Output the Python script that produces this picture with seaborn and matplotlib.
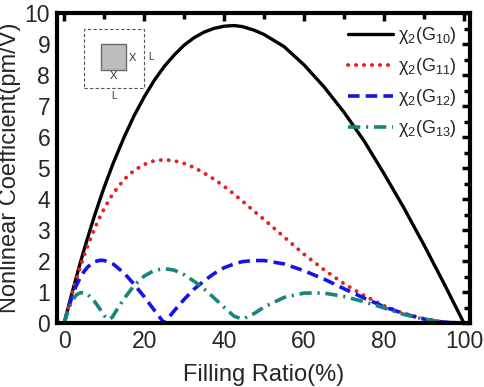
import matplotlib
matplotlib.use('Agg')
import matplotlib.pyplot as plt
from matplotlib.patches import Rectangle
from matplotlib.ticker import MultipleLocator
import seaborn as sns

# --- Data ---
filling = [0, 0.5, 1, 2, 3, 4, 5, 6, 7.5, 9,
           10, 11.1, 12, 12.5, 15, 17.5, 20, 22.5, 25, 27.5,
           30, 32.5, 35, 37.5, 40, 42.5, 44.4, 45, 47.5, 50,
           55, 60, 65, 70, 75, 80, 85, 90, 95, 100]

chi_g10 = [0, 0.26, 0.51, 1.01, 1.48, 1.95, 2.39, 2.82, 3.44, 4.02,
           4.39, 4.77, 5.08, 5.24, 6.01, 6.70, 7.30, 7.83, 8.28, 8.65,
           8.97, 9.21, 9.39, 9.51, 9.58, 9.60, 9.57, 9.55, 9.45, 9.31,
           8.92, 8.33, 7.62, 6.80, 5.88, 4.82, 3.71, 2.52, 1.28, 0]

chi_g11 = [0, 0.26, 0.50, 0.97, 1.41, 1.82, 2.20, 2.55, 3.03, 3.45,
           3.70, 3.95, 4.14, 4.23, 4.64, 4.93, 5.12, 5.24, 5.27, 5.24,
           5.15, 5.02, 4.84, 4.64, 4.41, 4.16, 3.95, 3.89, 3.61, 3.34,
           2.78, 2.22, 1.72, 1.27, 0.89, 0.56, 0.31, 0.14, 0.03, 0]

chi_g12 = [0, 0.25, 0.48, 0.88, 1.21, 1.47, 1.68, 1.83, 1.98, 2.03,
           2.02, 1.97, 1.92, 1.88, 1.61, 1.25, 0.85, 0.42, 0, 0.40,
           0.77, 1.10, 1.37, 1.60, 1.79, 1.91, 1.98, 1.99, 2.02, 2.02,
           1.91, 1.69, 1.42, 1.11, 0.81, 0.53, 0.30, 0.13, 0.03, 0]

chi_g13 = [0, 0.24, 0.44, 0.73, 0.91, 0.98, 0.98, 0.91, 0.71, 0.44,
           0.24, 0.12, 0.19, 0.30, 0.80, 1.22, 1.52, 1.70, 1.76, 1.71,
           1.56, 1.35, 1.10, 0.81, 0.51, 0.22, 0.14, 0.15, 0.31, 0.52,
           0.83, 0.97, 0.97, 0.86, 0.69, 0.49, 0.28, 0.13, 0.03, 0]

labels = ['χ$_2$(G$_{10}$)', 'χ$_2$(G$_{11}$)', 'χ$_2$(G$_{12}$)', 'χ$_2$(G$_{13}$)']

# --- Style ---
sns.set_style('white')
plt.rcParams['font.family'] = ['Liberation Sans', 'DejaVu Sans']
plt.rcParams['mathtext.fontset'] = 'custom'
plt.rcParams['mathtext.rm'] = 'Liberation Sans'
plt.rcParams['mathtext.it'] = 'Liberation Sans:italic'

line_styles = [
    dict(color='black', linewidth=2.4, linestyle='-'),
    dict(color='#e32222', linewidth=2.8, linestyle=(0, (0.05, 2.0)), dash_capstyle='round'),
    dict(color='#1414e6', linewidth=2.6, linestyle=(0, (3.2, 1.7))),
    dict(color='#16857c', linewidth=2.6, linestyle=(0, (3.4, 1.6, 0.6, 1.6))),
]

fig = plt.figure(figsize=(4.84, 3.87), dpi=100)
ax = fig.add_axes([0.118, 0.165, 0.853, 0.801])

for vals, lab, st in zip([chi_g10, chi_g11, chi_g12, chi_g13], labels, line_styles):
    sns.lineplot(x=filling, y=vals, ax=ax, label=lab, **st)

ax.set_xlim(-1.8, 101.5)
ax.set_ylim(0, 10)
ax.xaxis.set_major_locator(MultipleLocator(20))
ax.xaxis.set_minor_locator(MultipleLocator(10))
ax.yaxis.set_major_locator(MultipleLocator(1))
ax.yaxis.set_minor_locator(MultipleLocator(0.5))
ax.tick_params(which='both', direction='in', top=True, right=True, width=2.5, color='black')
ax.tick_params(which='major', length=6, labelsize=16.5, pad=5)
ax.tick_params(which='minor', length=4)
for sp in ax.spines.values():
    sp.set_linewidth(3)
    sp.set_color('black')

ax.set_xlabel('Filling Ratio(%)', fontsize=17, labelpad=8)
ax.set_ylabel('Nonlinear Coefficient(pm/V)', fontsize=17, labelpad=3)

ax.legend(loc='upper right', frameon=False, fontsize=13, handlelength=2.5,
          handletextpad=0.3, labelspacing=0.55, bbox_to_anchor=(0.99, 0.99),
          borderaxespad=0.1)

# --- Inset sketch of the unit cell ---
ax.add_patch(Rectangle((4.9, 7.58), 15.0, 1.92, fill=False, edgecolor='#555555',
                       linestyle=(0, (3, 2)), linewidth=0.8))
ax.add_patch(Rectangle((9.3, 8.18), 6.2, 0.81, facecolor='#bdbdbd', edgecolor='#6a6a6a',
                       linewidth=1.0))
ax.text(17.0, 8.56, 'X', fontsize=8, color='#333333', ha='center', va='center')
ax.text(12.4, 7.98, 'X', fontsize=8, color='#333333', ha='center', va='center')
ax.text(21.8, 8.59, 'L', fontsize=7, color='#333333', ha='center', va='center')
ax.text(12.4, 7.32, 'L', fontsize=7, color='#333333', ha='center', va='center')

fig.savefig('out.png', dpi=100)
